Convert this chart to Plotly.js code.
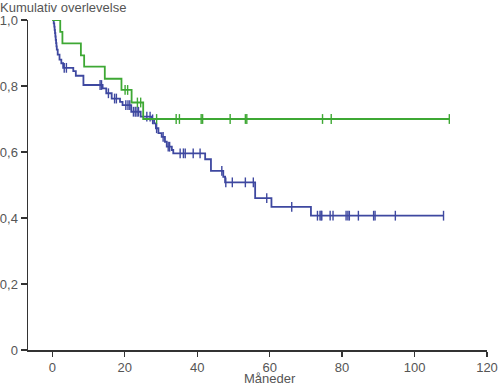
<!DOCTYPE html>
<html>
<head>
<meta charset="utf-8">
<script src="https://cdn.plot.ly/plotly-3.0.1.min.js"></script>
<style>html,body{margin:0;padding:0;background:#fff;}#chart{width:500px;height:385px;}</style>
</head>
<body>
<div id="chart"></div>
<script>
// Green group: step times and survival after each step
var greenTimes = [0, 2.2, 2.8, 7.9, 8.8, 14.5, 19.1, 21.9, 25.1];
var greenSurv  = [1.0, 0.964, 0.929, 0.893, 0.859, 0.822, 0.788, 0.75, 0.70];
var greenCensor = [20.1, 20.8, 23.5, 24.4, 28.8, 34.2, 35.1, 41.1, 41.5, 49.1, 53.3, 53.7, 74.6, 77.0, 109.6];

// Blue group
var blueTimes = [0, 0.4, 0.55, 0.65, 0.75, 0.85, 0.95, 1.05, 1.15, 1.25, 1.5, 2.0, 2.5, 3.0,
  5.8, 6.5, 8.6, 13.9, 14.9, 16.4, 18.7, 19.4, 21.8, 24.4, 27.5, 28.1, 28.6, 29.3, 30.2,
  31.1, 31.6, 33.0, 33.4, 42.2, 43.8, 47.2, 47.7, 56.0, 60.5, 71.4];
var blueSurv = [1.0, 0.99, 0.98, 0.97, 0.96, 0.95, 0.94, 0.93, 0.92, 0.91, 0.895, 0.88, 0.869, 0.855,
  0.845, 0.831, 0.803, 0.793, 0.778, 0.762, 0.752, 0.742, 0.722, 0.707, 0.699, 0.687, 0.672, 0.657, 0.646,
  0.631, 0.616, 0.606, 0.596, 0.578, 0.543, 0.525, 0.508, 0.46, 0.434, 0.407];
var blueCensor = [3.3, 3.9, 13.2, 13.6, 15.5, 17.2, 17.7, 20.3, 20.9, 21.4, 22.4, 22.9, 23.4, 23.8,
  26.1, 27.0, 27.7, 28.8, 30.6, 32.0, 32.4, 35.3, 36.2, 36.7, 38.9, 40.8, 46.8, 47.9, 49.7, 53.3, 55.5,
  59.2, 66.1, 73.2, 73.9, 74.2, 74.4, 76.7, 77.5, 81.1, 81.6, 82.0, 84.5, 88.7, 89.1, 94.7, 108.0];

var yTickVals = [0, 0.2, 0.4, 0.6, 0.8, 1.0];
var yTickText = ["0", "0,2", "0,4", "0,6", "0,8", "1,0"];
var xTickVals = [0, 20, 40, 60, 80, 100, 120];

var GREEN = "rgb(62,168,52)";
var BLUE = "rgb(62,72,160)";

function survAt(times, surv, t) {
  var s = surv[0];
  for (var i = 0; i < times.length; i++) { if (times[i] <= t) s = surv[i]; }
  return s;
}
function stepLine(times, surv, censor) {
  var x = times.slice(), y = surv.slice();
  var last = Math.max.apply(null, censor);
  x.push(last); y.push(survAt(times, surv, last));
  return {x: x, y: y};
}
function censorPts(times, surv, censor) {
  return {x: censor.slice(), y: censor.map(function (t) { return survAt(times, surv, t); })};
}

var gL = stepLine(greenTimes, greenSurv, greenCensor);
var bL = stepLine(blueTimes, blueSurv, blueCensor);
var gC = censorPts(greenTimes, greenSurv, greenCensor);
var bC = censorPts(blueTimes, blueSurv, blueCensor);

var traces = [
  {x: bL.x, y: bL.y, mode: "lines", line: {shape: "hv", color: BLUE, width: 1.8}, hoverinfo: "skip", cliponaxis: false},
  {x: bC.x, y: bC.y, mode: "markers", marker: {symbol: "line-ns", size: 7, line: {color: BLUE, width: 1.4}}, cliponaxis: false},
  {x: gL.x, y: gL.y, mode: "lines", line: {shape: "hv", color: GREEN, width: 1.8}, hoverinfo: "skip", cliponaxis: false},
  {x: gC.x, y: gC.y, mode: "markers", marker: {symbol: "line-ns", size: 7, line: {color: GREEN, width: 1.4}}, cliponaxis: false}
];

var fnt = {family: "Liberation Sans, Arial, sans-serif", size: 13, color: "#555"};

var layout = {
  width: 500, height: 385,
  margin: {l: 28, r: 13.3, t: 20, b: 35, pad: 0},
  paper_bgcolor: "#fff", plot_bgcolor: "#fff",
  showlegend: false,
  font: fnt,
  xaxis: {
    range: [-6.7, 120], tickvals: xTickVals, ticks: "outside", ticklen: 5, tickwidth: 1.2, tickcolor: "#333",
    showline: true, linecolor: "#333", linewidth: 1.5, showgrid: false, zeroline: false,
    tickfont: fnt, ticklabelstandoff: 0, automargin: false
  },
  yaxis: {
    range: [0, 1.0], tickvals: yTickVals, ticktext: yTickText, ticks: "outside", ticklen: 6, tickwidth: 1.2, tickcolor: "#333",
    showline: true, linecolor: "#333", linewidth: 1.5, showgrid: false, zeroline: false,
    tickfont: fnt, ticklabelstandoff: 0, automargin: false
  },
  annotations: [
    {text: "Kumulativ overlevelse", xref: "paper", yref: "paper", x: 0, y: 1, xanchor: "left", yanchor: "top",
     xshift: -30, yshift: 22, showarrow: false, font: fnt},
    {text: "Måneder", xref: "x", yref: "paper", x: 60, y: 0, xanchor: "center", yanchor: "top",
     yshift: -19, showarrow: false, font: fnt}
  ]
};

Plotly.newPlot("chart", traces, layout, {staticPlot: true, displayModeBar: false});
</script>
</body>
</html>
